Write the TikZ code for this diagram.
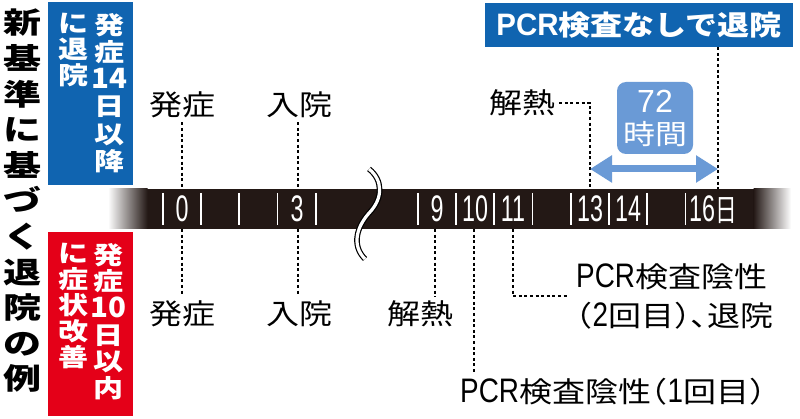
\documentclass[tikz,border=0pt]{standalone}
\usepackage{graphicx}
\usepackage{fontspec}
\setmainfont{Noto Sans CJK JP}
\newfontfamily\latf{Liberation Sans}
\usetikzlibrary{arrows.meta}
\definecolor{blueA}{RGB}{16,100,176}
\definecolor{redA}{RGB}{228,0,24}
\definecolor{lb}{RGB}{106,154,214}
\definecolor{barc}{RGB}{35,24,21}
\newcommand{\tightlines}{\lineskiplimit=-30pt\lineskip=0pt}
\newcommand{\jlp}{\makebox[0.5em][r]{（}}
\newcommand{\jrp}{\makebox[0.5em][l]{）}}
\newcommand{\jcm}{\makebox[0.5em][l]{、}}
\newcommand{\cnd}[1]{{\fontsize{37}{37}\latf\scalebox{0.63}[1]{#1}}}
\newcommand{\fl}[1]{\scalebox{1}[0.86]{#1}}
\newcommand{\flb}[1]{\scalebox{1}[0.82]{#1}}
\newcommand{\flt}[1]{\scalebox{1}[0.77]{#1}}
\newcommand{\Ltx}[1]{{\fontsize{34}{34}\latf\scalebox{0.82}[1]{#1}}}
\newcommand{\Bdg}[1]{{\fontsize{31}{31}\selectfont\bfseries\scalebox{0.95}[0.9]{#1}}}
\begin{document}
\begin{tikzpicture}[x=1pt,y=-1pt,
  lbl/.style={font=\fontsize{33}{33}\selectfont, inner sep=0pt, text=black},
  dotline/.style={line width=1.6pt, dash pattern=on 3pt off 2.6pt, black},
  num/.style={font=\fontsize{32}{32}\selectfont, text=white, inner sep=0pt},
  vcol/.style={align=center, inner sep=0pt, text=white, anchor=north},
  tick/.style={white, line width=1.6pt},
]
\useasboundingbox (0,0) rectangle (800,419);
\fill[white] (0,0) rectangle (800,419);

% title
\node[font=\fontsize{38}{35.6}\selectfont\bfseries\tightlines, align=center, inner sep=0pt, anchor=north] (title) at (22,9)
  {\flt{新}\\\flt{基}\\\flt{準}\\\flt{に}\\\flt{基}\\\flt{づ}\\\flt{く}\\\flt{退}\\\flt{院}\\\flt{の}\\\flt{例}};

% blue box
\node[fill=blueA, minimum width=85pt, minimum height=183pt, inner sep=0pt, anchor=north west] (bbox) at (48,2) {};
\node[vcol, font=\fontsize{30}{27.2}\selectfont\bfseries\tightlines] (b1) at (109,13)
  {\flb{発}\\\flb{症}\\\Bdg{14}\\\flb{日}\\\flb{以}\\\flb{降}};
\node[vcol, font=\fontsize{30}{26}\selectfont\bfseries\tightlines] (b2) at (73,13)
  {\flb{に}\\\flb{退}\\\flb{院}};

% red box
\node[fill=redA, minimum width=85pt, minimum height=184pt, inner sep=0pt, anchor=north west] (rbox) at (48,232) {};
\node[vcol, font=\fontsize{30}{26.6}\selectfont\bfseries\tightlines] (r1) at (108,243)
  {\flb{発}\\\flb{症}\\\Bdg{10}\\\flb{日}\\\flb{以}\\\flb{内}};
\node[vcol, font=\fontsize{30}{26}\selectfont\bfseries\tightlines] (r2) at (73,243)
  {\flb{に}\\\flb{症}\\\flb{状}\\\flb{改}\\\flb{善}};

% bar
\fill[barc] (147,189) rectangle (754,229);
\shade[left color=white, right color=barc] (108,189) rectangle (147.5,229);
\shade[left color=barc, right color=white] (753.5,189) rectangle (791,229);
\foreach \x in {163,201,239,277.5,316,418,456,494,532.5,571,609,647,685.5}
  \draw[tick] (\x,193) -- (\x,225);
\node[num] (n0) at (182,209) {\cnd{0}};
\node[num] (n3) at (297,209) {\cnd{3}};
\node[num] (n9) at (437,209) {\cnd{9}};
\node[num] (n10) at (475,209) {\cnd{10}};
\node[num] (n11) at (513,209) {\cnd{11}};
\node[num] (n13) at (590,209) {\cnd{13}};
\node[num] (n14) at (628,209) {\cnd{14}};
\node[num, anchor=base west] (n16) at (689,222) {\cnd{16}{\fontsize{31}{31}\selectfont\scalebox{0.7}[1]{日}}};

% wave break
\draw[black, line width=5.6pt] (369,169) .. controls (383,180) and (383,198) .. (370,212) .. controls (357,226) and (351,245) .. (365,259);
\draw[white, line width=3.2pt] (369,169) .. controls (383,180) and (383,198) .. (370,212) .. controls (357,226) and (351,245) .. (365,259);

% bar anchor points
\coordinate (bt0) at (182,189);
\coordinate (bt3) at (298,189);
\coordinate (bt13) at (590,189);
\coordinate (bt16) at (718,189);
\coordinate (bb0) at (182,229);
\coordinate (bb3) at (298,229);
\coordinate (bb9) at (435,229);
\coordinate (bb10) at (474,229);
\coordinate (bb11) at (513,229);
\coordinate (arrL) at (590,169);
\coordinate (arrR) at (718,169);

% top labels
\node[lbl] (ht0) at (182,105) {\fl{発症}};
\node[lbl] (ht3) at (299,105) {\fl{入院}};
\node[lbl] (htk) at (522,103) {\fl{解熱}};
\node[fill=blueA, text=white, font=\fontsize{32}{32}\selectfont\bfseries, minimum width=308pt, minimum height=44pt, inner sep=0pt] (pcrbox) at (639,25) {{\fontsize{31}{31}\latf\bfseries\scalebox{0.95}[1]{PCR}}\fl{検査なしで退院}};
\node[fill=lb, rounded corners=9pt, minimum width=76pt, minimum height=72pt, text=white, font=\fontsize{32}{32}\selectfont\tightlines, align=center, inner sep=0pt] (h72) at (655,118) {{\latf 72}\\\fl{時間}};

% bottom labels
\node[lbl] (hb0) at (182,314) {\fl{発症}};
\node[lbl] (hb3) at (299,314) {\fl{入院}};
\node[lbl] (hbk) at (420,314) {\fl{解熱}};
\node[lbl, anchor=base west] (pcr1) at (460,402) {\Ltx{PCR}\fl{検査陰性\jlp}\Ltx{1}\fl{回目\jrp}};
\node[lbl, font=\fontsize{33}{39}\selectfont\tightlines, align=left, anchor=west] (pcr2) at (576,296) {\Ltx{PCR}\fl{検査陰性}\\\fl{\jlp}\Ltx{2}\fl{回目\jrp\jcm 退院}};

% dotted connectors
\draw[dotline, shorten <=4pt] (ht0.south) -- (bt0);
\draw[dotline, shorten <=4pt] (ht3.south -| bt3) -- (bt3);
\draw[dotline, shorten <=4pt] (htk.east) -| (bt13);
\draw[dotline] (bt16 |- pcrbox.south) -- (bt16);
\draw[dotline, shorten >=5pt] (bb0) -- (hb0.north);
\draw[dotline, shorten >=5pt] (bb3) -- (bb3 |- hb3.north);
\draw[dotline, shorten >=4pt] (bb9) -- (bb9 |- hbk.north);
\draw[dotline, shorten >=4pt] (bb10) -- (bb10 |- pcr1.north);
\draw[dotline, shorten >=7pt] (bb11) |- (pcr2.west);

% 72h arrow
\draw[lb, line width=7pt, {Triangle[length=22pt,width=26pt]}-{Triangle[length=22pt,width=26pt]}] (arrL) -- (arrR);
\end{tikzpicture}
\end{document}
